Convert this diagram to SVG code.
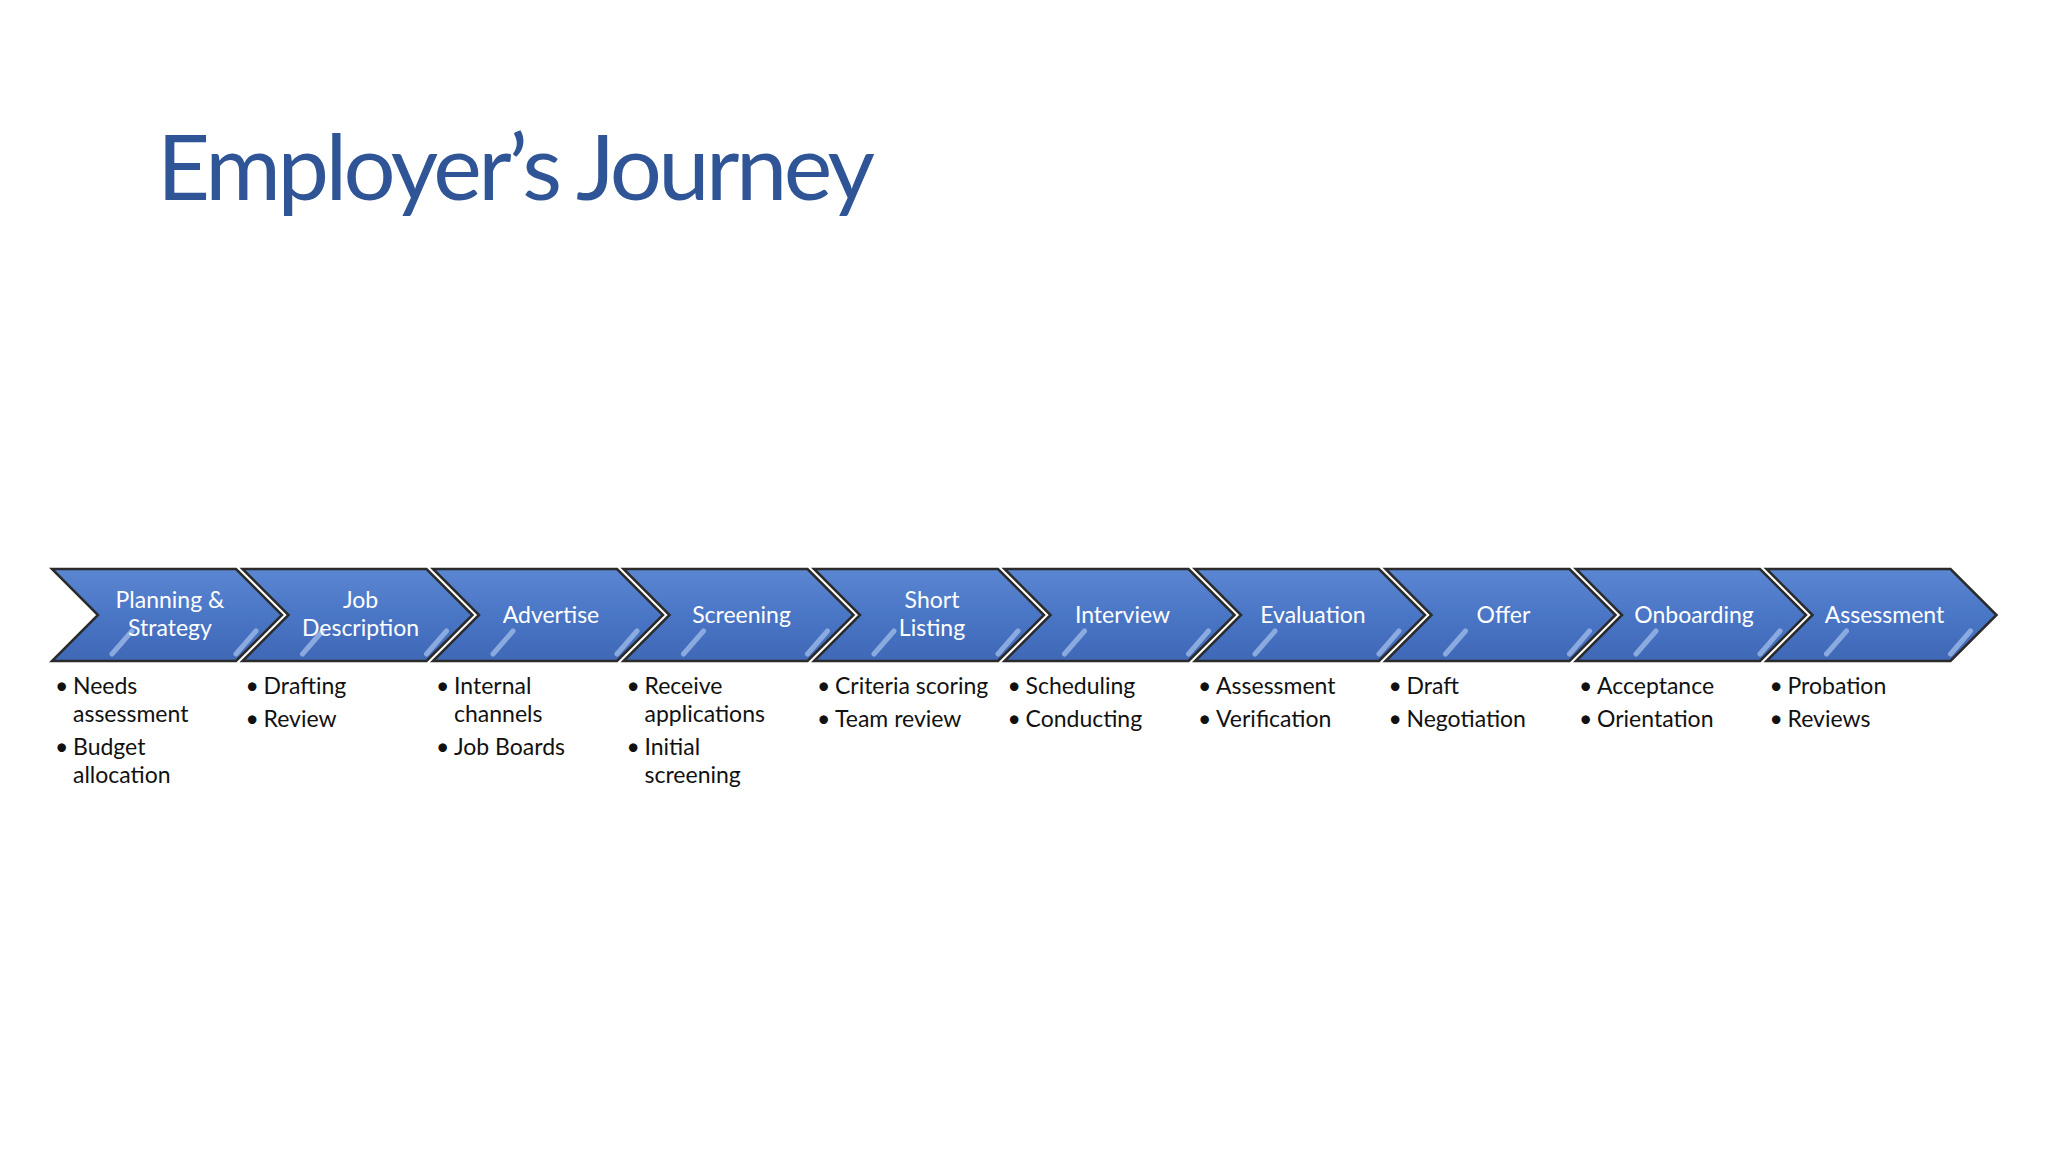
<svg xmlns="http://www.w3.org/2000/svg" width="2048" height="1152" viewBox="0 0 2048 1152">
<defs>
<linearGradient id="g" x1="0" y1="0" x2="0" y2="1">
<stop offset="0" stop-color="#5a86d2"/><stop offset="0.5" stop-color="#4a76c6"/><stop offset="1" stop-color="#3f68b6"/>
</linearGradient>
<path id="chev" d="M0,0 H184 L230,46 L184,92 H0 L46,46 Z"/>
</defs>
<style>
.c{fill:url(#g);stroke:#2b2b2b;stroke-width:2.5}
.sh{stroke:#a9c4ee;stroke-width:5;stroke-linecap:round;opacity:0.7}
.l{font-family:Lato,"Open Sans",sans-serif;font-size:23px;fill:#fff;text-anchor:middle}
.b{font-family:Lato,"Open Sans",sans-serif;font-size:23px;fill:#111}
</style>
<rect width="2048" height="1152" fill="#fff"/>
<text x="157" y="200" font-family="Lato,'Open Sans',sans-serif" font-size="92" fill="#2f5597" textLength="718">Employer’s Journey</text>
<g id="connectors"></g>
<g id="n0" transform="translate(52,569)"><use href="#chev" class="c"/><line x1="60" y1="85" x2="80" y2="62" class="sh"/><line x1="184" y1="85" x2="204" y2="62" class="sh"/><text class="l" x="118" y="39">Planning &amp;</text><text class="l" x="118" y="67">Strategy</text></g>
<g id="n1" transform="translate(242.5,569)"><use href="#chev" class="c"/><line x1="60" y1="85" x2="80" y2="62" class="sh"/><line x1="184" y1="85" x2="204" y2="62" class="sh"/><text class="l" x="118" y="39">Job</text><text class="l" x="118" y="67">Description</text></g>
<g id="n2" transform="translate(433,569)"><use href="#chev" class="c"/><line x1="60" y1="85" x2="80" y2="62" class="sh"/><line x1="184" y1="85" x2="204" y2="62" class="sh"/><text class="l" x="118" y="54">Advertise</text></g>
<g id="n3" transform="translate(623.5,569)"><use href="#chev" class="c"/><line x1="60" y1="85" x2="80" y2="62" class="sh"/><line x1="184" y1="85" x2="204" y2="62" class="sh"/><text class="l" x="118" y="54">Screening</text></g>
<g id="n4" transform="translate(814,569)"><use href="#chev" class="c"/><line x1="60" y1="85" x2="80" y2="62" class="sh"/><line x1="184" y1="85" x2="204" y2="62" class="sh"/><text class="l" x="118" y="39">Short</text><text class="l" x="118" y="67">Listing</text></g>
<g id="n5" transform="translate(1004.5,569)"><use href="#chev" class="c"/><line x1="60" y1="85" x2="80" y2="62" class="sh"/><line x1="184" y1="85" x2="204" y2="62" class="sh"/><text class="l" x="118" y="54">Interview</text></g>
<g id="n6" transform="translate(1195,569)"><use href="#chev" class="c"/><line x1="60" y1="85" x2="80" y2="62" class="sh"/><line x1="184" y1="85" x2="204" y2="62" class="sh"/><text class="l" x="118" y="54">Evaluation</text></g>
<g id="n7" transform="translate(1385.5,569)"><use href="#chev" class="c"/><line x1="60" y1="85" x2="80" y2="62" class="sh"/><line x1="184" y1="85" x2="204" y2="62" class="sh"/><text class="l" x="118" y="54">Offer</text></g>
<g id="n8" transform="translate(1576,569)"><use href="#chev" class="c"/><line x1="60" y1="85" x2="80" y2="62" class="sh"/><line x1="184" y1="85" x2="204" y2="62" class="sh"/><text class="l" x="118" y="54">Onboarding</text></g>
<g id="n9" transform="translate(1766.5,569)"><use href="#chev" class="c"/><line x1="60" y1="85" x2="80" y2="62" class="sh"/><line x1="184" y1="85" x2="204" y2="62" class="sh"/><text class="l" x="118" y="54">Assessment</text></g>
<g id="bullets" class="b">
<text x="55" y="694">• <tspan x="73">Needs</tspan></text><text x="73" y="722">assessment</text><text x="55" y="755">• <tspan x="73">Budget</tspan></text><text x="73" y="783">allocation</text>
<text x="245.5" y="694">• <tspan x="263.5">Drafting</tspan></text><text x="245.5" y="727">• <tspan x="263.5">Review</tspan></text>
<text x="436" y="694">• <tspan x="454">Internal</tspan></text><text x="454" y="722">channels</text><text x="436" y="755">• <tspan x="454">Job Boards</tspan></text>
<text x="626.5" y="694">• <tspan x="644.5">Receive</tspan></text><text x="644.5" y="722">applications</text><text x="626.5" y="755">• <tspan x="644.5">Initial</tspan></text><text x="644.5" y="783">screening</text>
<text x="817" y="694">• <tspan x="835">Criteria scoring</tspan></text><text x="817" y="727">• <tspan x="835">Team review</tspan></text>
<text x="1007.5" y="694">• <tspan x="1025.5">Scheduling</tspan></text><text x="1007.5" y="727">• <tspan x="1025.5">Conducting</tspan></text>
<text x="1198" y="694">• <tspan x="1216">Assessment</tspan></text><text x="1198" y="727">• <tspan x="1216">Verification</tspan></text>
<text x="1388.5" y="694">• <tspan x="1406.5">Draft</tspan></text><text x="1388.5" y="727">• <tspan x="1406.5">Negotiation</tspan></text>
<text x="1579" y="694">• <tspan x="1597">Acceptance</tspan></text><text x="1579" y="727">• <tspan x="1597">Orientation</tspan></text>
<text x="1769.5" y="694">• <tspan x="1787.5">Probation</tspan></text><text x="1769.5" y="727">• <tspan x="1787.5">Reviews</tspan></text>
</g>
</svg>
